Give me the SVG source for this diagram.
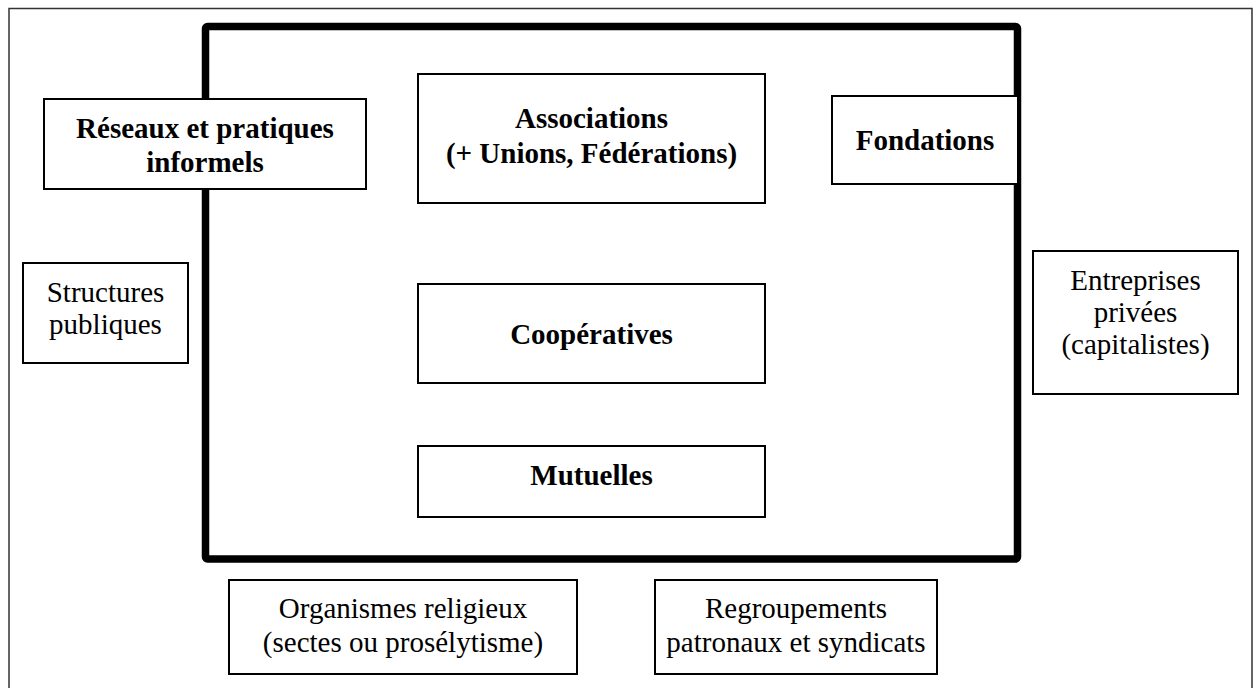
<svg xmlns="http://www.w3.org/2000/svg" width="1254" height="688" viewBox="0 0 1254 688">
<defs>
<rect id="unused-def" width="0" height="0"/>
</defs>
<rect width="1254" height="688" fill="#fff"/>
<path d="M9,700 V8.5 H1252 V700" fill="none" stroke="#333" stroke-width="1.5"/>
<g id="ess-frame">
<rect x="205.5" y="26.5" width="812" height="532.5" rx="2" fill="none" stroke="#000" stroke-width="7.5"/>
</g>
<g id="connectors"></g>
<g id="reseaux">
<rect x="44" y="99" width="322" height="90" fill="#fff" stroke="#000" stroke-width="2"/>
<text x="205" y="138" font-family="Liberation Serif" font-size="29" font-weight="bold" text-anchor="middle">Réseaux et pratiques</text>
<text x="205" y="172" font-family="Liberation Serif" font-size="29" font-weight="bold" text-anchor="middle">informels</text>
</g>
<g id="associations">
<rect x="418" y="74" width="347" height="129" fill="#fff" stroke="#000" stroke-width="2"/>
<text x="591.5" y="128" font-family="Liberation Serif" font-size="29" font-weight="bold" text-anchor="middle">Associations</text>
<text x="591.5" y="163" font-family="Liberation Serif" font-size="29" font-weight="bold" text-anchor="middle">(+ Unions, Fédérations)</text>
</g>
<g id="fondations">
<rect x="832" y="96" width="186" height="88" fill="#fff" stroke="#000" stroke-width="2"/>
<text x="925" y="150" font-family="Liberation Serif" font-size="29" font-weight="bold" text-anchor="middle">Fondations</text>
</g>
<g id="structures">
<rect x="23" y="263" width="165" height="100" fill="#fff" stroke="#000" stroke-width="2"/>
<text x="105.5" y="302" font-family="Liberation Serif" font-size="29" text-anchor="middle">Structures</text>
<text x="105.5" y="334" font-family="Liberation Serif" font-size="29" text-anchor="middle">publiques</text>
</g>
<g id="entreprises">
<rect x="1033" y="251" width="205" height="143" fill="#fff" stroke="#000" stroke-width="2"/>
<text x="1135.5" y="290" font-family="Liberation Serif" font-size="29" text-anchor="middle">Entreprises</text>
<text x="1135.5" y="322" font-family="Liberation Serif" font-size="29" text-anchor="middle">privées</text>
<text x="1135.5" y="354" font-family="Liberation Serif" font-size="29" text-anchor="middle">(capitalistes)</text>
</g>
<g id="cooperatives">
<rect x="418" y="284" width="347" height="99" fill="#fff" stroke="#000" stroke-width="2"/>
<text x="591.5" y="344" font-family="Liberation Serif" font-size="29" font-weight="bold" text-anchor="middle">Coopératives</text>
</g>
<g id="mutuelles">
<rect x="418" y="446" width="347" height="71" fill="#fff" stroke="#000" stroke-width="2"/>
<text x="591.5" y="485" font-family="Liberation Serif" font-size="29" font-weight="bold" text-anchor="middle">Mutuelles</text>
</g>
<g id="organismes">
<rect x="229" y="580" width="348" height="94" fill="#fff" stroke="#000" stroke-width="2"/>
<text x="403" y="618" font-family="Liberation Serif" font-size="29" text-anchor="middle">Organismes religieux</text>
<text x="403" y="652" font-family="Liberation Serif" font-size="29" text-anchor="middle">(sectes ou prosélytisme)</text>
</g>
<g id="regroupements">
<rect x="655" y="580" width="282" height="94" fill="#fff" stroke="#000" stroke-width="2"/>
<text x="796" y="618" font-family="Liberation Serif" font-size="29" text-anchor="middle">Regroupements</text>
<text x="796" y="652" font-family="Liberation Serif" font-size="29" text-anchor="middle">patronaux et syndicats</text>
</g>
</svg>
